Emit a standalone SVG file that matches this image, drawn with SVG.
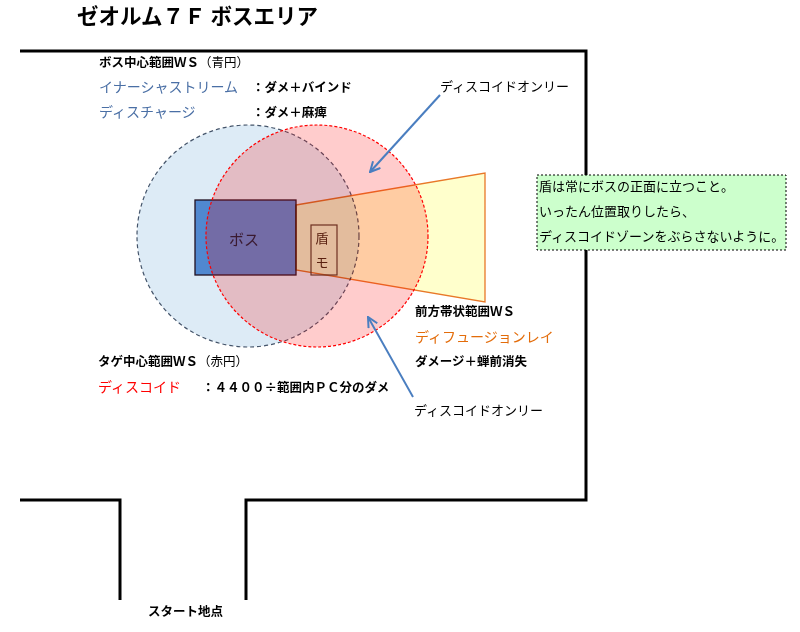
<svg xmlns="http://www.w3.org/2000/svg" width="800" height="632" viewBox="0 0 800 632">
<style>
text{font-family:"Noto Sans CJK JP","Noto Sans",sans-serif;fill:#000}
.b{font-weight:bold;font-size:12.5px}
.nw{font-weight:normal}
.n{font-size:13px}
.big{font-size:14px}
.wall{fill:none;stroke:#000;stroke-width:3}
.arrow{stroke:#4a7ec0;stroke-width:2;fill:none}
</style>
<defs>
<marker id="ah" viewBox="0 0 12 12" refX="11" refY="6" markerWidth="12" markerHeight="12" markerUnits="userSpaceOnUse" orient="auto">
<path d="M1,1 L11,6 L1,11" fill="none" stroke="#4a7ec0" stroke-width="2"/>
</marker>
</defs>
<rect width="800" height="632" fill="#fff"/>
<text x="77" y="24" style="font-size:21.5px;font-weight:bold">ゼオルム７Ｆ ボスエリア</text>
<g id="walls">
<path class="wall" d="M20,51 H586 V500 H246 V600"/>
<path class="wall" d="M20,500 H120 V600"/>
</g>
<g id="blue-circle">
<circle cx="248" cy="236" r="111" fill="#ddebf6" stroke="#44546a" stroke-width="1.2" stroke-dasharray="4,3"/>
</g>
<g id="boss">
<rect x="195" y="200" width="101" height="75" fill="#5088d0" stroke="#201020" stroke-width="1.3"/>
</g>
<g id="front-fan">
<polygon points="296,205 485,173 485,302 296,270" fill="#ffffcc" stroke="#e87828" stroke-width="1.3" style="mix-blend-mode:multiply"/>
</g>
<g id="red-circle">
<circle cx="317" cy="236" r="111" fill="#ff0000" fill-opacity="0.2" stroke="#ff0000" stroke-width="1.2" stroke-dasharray="3,2"/>
</g>
<text x="244" y="245" text-anchor="middle" style="font-size:15px;fill:#3a1a30">ボス</text>
<g id="shield">
<rect x="311" y="225" width="26" height="50" fill="none" stroke="#6e3020" stroke-width="1.2"/>
<text x="322" y="243" text-anchor="middle" style="font-size:13px;fill:#5a2010">盾</text>
<text x="322" y="267" text-anchor="middle" style="font-size:13px;fill:#5a2010">モ</text>
</g>
<g id="labels-boss">
<text x="99" y="67" class="b">ボス中心範囲ＷＳ<tspan class="nw">（青円）</tspan></text>
<text x="99" y="92" class="big" style="fill:#4a6fa5">イナーシャストリーム</text>
<text x="252" y="92" class="b">：ダメ＋バインド</text>
<text x="99" y="117" class="big" style="fill:#4a6fa5">ディスチャージ</text>
<text x="252" y="117" class="b">：ダメ＋麻痺</text>
</g>
<g id="labels-fan">
<text x="415" y="316" class="b">前方帯状範囲ＷＳ</text>
<text x="415" y="342" class="big" style="fill:#e36c0a">ディフュージョンレイ</text>
<text x="415" y="366" class="b">ダメージ＋蝉前消失</text>
</g>
<g id="labels-tag">
<text x="98" y="366" class="b">タゲ中心範囲ＷＳ<tspan class="nw">（赤円）</tspan></text>
<text x="98" y="392" class="big" style="fill:#ff0000">ディスコイド</text>
<text x="202" y="392" class="b">：４４００÷範囲内ＰＣ分のダメ</text>
</g>
<g id="connectors">
<line class="arrow" x1="440" y1="95" x2="370" y2="172" marker-end="url(#ah)"/>
<line class="arrow" x1="413" y1="397" x2="368" y2="317" marker-end="url(#ah)"/>
</g>
<g id="callout-top"><text x="440" y="91" class="n">ディスコイドオンリー</text></g>
<g id="callout-bottom"><text x="414" y="415" class="n">ディスコイドオンリー</text></g>
<g id="note">
<rect x="537" y="175" width="249" height="75" fill="#ccffcc" stroke="#000" stroke-width="1" stroke-dasharray="2,2"/>
<text x="539" y="191" class="n">盾は常にボスの正面に立つこと。</text>
<text x="539" y="216" class="n">いったん位置取りしたら、</text>
<text x="539" y="241" class="n">ディスコイドゾーンをぶらさないように。</text>
</g>
<text x="148" y="616" class="b">スタート地点</text>
</svg>
